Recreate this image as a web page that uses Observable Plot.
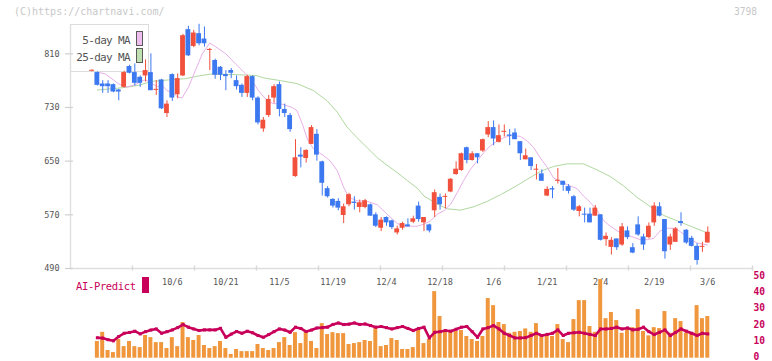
<!DOCTYPE html>
<html>
<head>
<meta charset="utf-8">
<script src="https://cdn.jsdelivr.net/npm/d3@7"></script>
<script src="https://cdn.jsdelivr.net/npm/@observablehq/plot@0.6"></script>
<style>
  html, body { margin: 0; padding: 0; background: #fff; }
  #wrap { position: relative; width: 772px; height: 361px; overflow: hidden; background: #fff; font-family: "DejaVu Sans Mono", monospace; }
  .abs { position: absolute; white-space: nowrap; }
  #main, #sub { position: absolute; left: 0; z-index: 2; }
  #main { top: 0; }
  #sub { top: 270px; }
  .legendbox { position: absolute; left: 70px; top: 24px; width: 77px; height: 46px; border: 1px solid #dcdcdc; background: #fff; z-index: 1; }
  .lg { font-size: 11px; line-height: 11px; letter-spacing: -0.65px; color: #555; z-index: 1; text-align: right; }
</style>
</head>
<body>
<div id="wrap">
  <div class="abs" style="left:14px; top:6px; font-size:10px; line-height:12px; color:#c8c8c8;">(C)https://chartnavi.com/</div>
  <div class="abs" style="right:15px; top:6px; font-size:9.6px; line-height:12px; color:#c8c8c8;">3798</div>
  <div class="legendbox"></div>
  <div class="abs lg" style="left:60px; top:35px; width:70px;">5-day MA</div>
  <div class="abs lg" style="left:60px; top:51.5px; width:70px;">25-day MA</div>
  <div class="abs" style="left:136px; top:31px; width:5px; height:13px; background:#eebfee; border:1px solid #5a5a5a; z-index:1;"></div>
  <div class="abs" style="left:136px; top:48px; width:5px; height:13px; background:#bfe0b0; border:1px solid #5a5a5a; z-index:1;"></div>
  <div class="abs" style="left:76px; top:281px; font-size:10.5px; line-height:10px; letter-spacing:-0.35px; color:#c8005a; z-index:3;">AI-Predict</div>
  <div class="abs" style="left:142px; top:277px; width:7px; height:16px; background:#c8005a; z-index:3;"></div>
  <div id="main"></div>
  <div id="sub"></div>
</div>
<script>
// ---- data ----
const open  = [784,782,765,765,764,756,760,791,782,775,777,782,755.5,771,721,779,749,777,846,821,840,832,815,800,790,779,785,770,763,751,776,744,698,718,744,764,727,718,627,659,654,675,690,649,609,593,590,569,585,589,581,581,585,570,550,566,561,543,550,555,559,583,558,555,576,596,596,604,630,636,670,651,661,665,689,700,678,693,689,692,679,652,655,636.5,631,598,609,620,620,612,597,575,571,571,568,570,533,521.5,534,525,546,521,555,537,536,558,582,563,525,529,560,547,535,523,521.5,528];
const high  = [786,783,770,770,765,757,784,793,795,777,801,810,770,772,740,780,780,839,851,845,854,850,818,802,791,785,788,777,765,778,777,746,715,748,764,768,735,721,682,670,667,703,697,650,612,594,594,586,602,597,592,593,586,573,566,567,562,553,559,564,568,589,566,556,607,601,601,624,649,662,671,664,661,683,709,710,704,704,697,698,679,668,655,645,637,612,612,639,620,615,599,584,580,580,584,570,543,536,534,557,552,527,567,541,558,588,588,563,541,551,573,548,538,527,529,552];
const low   = [783,762,751,751,752,740,759,780,762,760,768,755,748,727,715,739,743,776,806,819,822,820,785,772,770,755,773,756,745,745,740,704,693,715,736,716,715,693,626,640,647,675,650,598,595,580,576,557,582,577,573,579,568,551,545,553,548,540,547,552,557,559,545,543,566,577,579,603,629,635,646,650,646,663,685,673,677,686,673,682,651,652,636,622,620,597,594,616,605,601,575,567,558,558,568,531,523,510,517,523,533,512,538,517,534,553,567,504,517,529,553,526,522,495,514,528];
const close = [785.5,763,761,761,753,753,782,781,766,766,785,755,757,728,735,744,773,837,807,841,825,825,816.5,778,778,776,781,761,751,776,744,707,711,742,761,727,721,697,655,656,666,700,659,617,597,583,580,582,600,587,588,591,568,553,562,558,551,549,557,552,564,563,566,546,603,585,597.5,623,638,661,651,661,655,682,700,683,688,694.5,687,682,661,658,642,638,620,608,607,621.5,614,605,577,582,569.5,558,580,532,538,532,521,552,536,513,540,525,553,583,568,515,537,549,557,528,523,502,523,544];

const volume = [null,10.4,16.1,4.8,3.5,11.6,7.2,10.4,7.2,6.6,14.1,12.8,9.7,9.7,6.0,12.8,7.2,22.2,12.8,11.0,14.1,7.9,6.0,7.2,10.4,6.0,2.3,5.4,4.1,4.1,4.1,8.5,6.0,4.8,6.0,9.7,12.8,7.9,15.9,9.1,16.6,10.4,6.0,21.5,14.7,15.9,15.3,15.3,8.5,9.1,9.7,11.0,10.4,18.4,7.2,7.9,12.2,11.0,5.4,5.4,6.6,17.8,9.1,11.6,41.4,25.9,17.2,17.2,16.6,17.2,13.5,11.6,10.4,13.5,37.1,32.7,22.2,20.9,15.5,16.1,16.6,18.2,16.1,21.5,13.5,13.9,13.5,20.9,11.6,9.7,24.0,35.8,35.8,19.7,16.1,48.9,24.6,28.4,23.4,15.5,17.8,19.0,30.2,16.6,13.9,19.0,18.4,29.0,15.5,24.6,22.8,15.5,15.5,32.7,24.6,25.9];
const aiPredict = [null,12.7,12.5,11.5,10.8,13.5,15.5,16,16.8,15.1,16.5,17.5,18.2,15.5,16.5,17.6,19,20.9,19.3,18.2,17.2,17.6,17.6,17.6,18.6,13.0,15,16.6,15.5,16.8,15.8,14.1,13,14.7,16.5,18.2,17.5,16.1,19.3,18.5,16.6,17.5,18.8,19,19.3,21,21.9,20.9,21.2,21.9,21,21.3,20.3,19.3,19.7,19,18.2,19,19.7,18.5,17.2,18.5,19.3,12.6,16.1,16.5,17.2,16.8,18,19.3,19.7,16.5,13.0,18.2,19,20.3,18.2,15.5,14.1,12.6,12.6,12.8,14.1,15.5,14.1,14.8,15.5,17.6,14.1,15.5,15.8,16.1,15.5,14.8,14.1,18.2,18.2,18.5,19.3,18.2,18.8,17.6,18,19.3,16.5,14.7,16.1,17.6,14.1,16,18.2,16.8,15.5,14.1,15.5,15.1];

const ma5Idx = [1,2.5,5,6.3,8.1,9.4,10,12.2,13.1,14,15,15.9,16.8,18,19.3,20.6,22,23,25,26.8,28.7,29.9,31.1,32.4,33.7,35.5,37.4,38.3,39.3,40.2,41.4,43.3,44.5,45.8,47,48,49.5,51.4,53.3,55.1,57,58.5,60.7,62,63.2,64.5,65.7,67,68.2,69.4,70.7,71.9,73.2,74.4,75.7,76.9,78.1,80,81.3,82.5,83.7,85,86.2,87.5,88.7,90.6,91.8,93,94.3,95.6,96.8,98.7,100.6,102.4,103.7,104.9,106.1,107.4,109,110.2,111.4,113,114.9];
const ma5Val = [782.5,780,765,760,764,770,771,761,763,755,753,746,744,760,785,810,826,821,810,795,780,770,755,743,736,735,730,725,705,683,668,658,650,636,611,596,591,590,585,571,557,553,553,556,561,571,576,586,603,621,638,650,663,673,680,685,688,687,680,670,655,641,625,620,615,609,598,589,577,561,553,543,538,533,533,535,546,550,550,543,535,528,525];
const ma25Idx = [1,3.8,6.3,8.7,11.2,14.3,17.5,19.9,22.4,26.8,30.8,32.1,35.2,38.3,41.4,43.9,45.8,47.6,49.5,51.4,53.3,55.1,57,58.9,60.7,62,64.5,66.3,68.8,71.3,73.8,76.3,78.8,81.3,83.8,86.2,88.7,91.8,94.3,96.8,99.3,101.8,104.3,106.8,109.3,111.8,113.7,114.9];
const ma25Val = [756,758,760,763,769,771,773,777,780,779,777.5,774,770,765.6,755,740,723,701,685,670,655,644,633,621,610,598,586,579,577,582,590,600,611,623,635,642,646,646,637,627,613,596,582,569,561,553,547,543];

const dateLabels = ["10/6","10/21","11/5","11/19","12/4","12/18","1/6","1/21","2/4","2/19","3/6"];
const labelIdx = [15,25,35,45,55,65,75,85,95,105,115];
const priceTicks = [490,570,650,730,810];
const aiTicks = [0,10,20,30,40,50];

// ---- build ----
const RED = "#f0503c", BLUE = "#3c78f0", ORANGE = "#f0963c", MAG = "#c8005a";
const PINK = "#e8b0e8", GREEN = "#b0d8a0";
const xDomain = [-4.015, 123.35];
const gridTicks = d3.range(1, 12).map(k => xDomain[0] + k * (xDomain[1] - xDomain[0]) / 11);

const candles = open.map((o, i) => ({i, o, h: high[i], l: low[i], c: close[i], col: close[i] >= o ? RED : BLUE}));
const ma5 = ma5Idx.map((i, k) => ({i, v: ma5Val[k]}));
const ma25 = ma25Idx.map((i, k) => ({i, v: ma25Val[k]}));
const vols = volume.map((v, i) => ({i, v})).filter(d => d.v != null);
const ai = aiPredict.map((v, i) => ({i, v})).filter(d => d.v != null);

const main = Plot.plot({
  width: 772, height: 300,
  marginLeft: 70, marginRight: 20, marginTop: 24, marginBottom: 32,
  x: {domain: xDomain, axis: null, label: null},
  y: {domain: [490, 810], range: [268, 53.3], axis: null, label: null},
  color: {type: "identity"},
  style: {background: "transparent", fontFamily: "DejaVu Sans Mono, monospace", color: "#555"},
  marks: [
    Plot.frame({anchor: "left", stroke: "#dedede", strokeWidth: 1.4}),
    Plot.frame({anchor: "bottom", stroke: "#dedede", strokeWidth: 1.4}),
    Plot.axisX({ticks: gridTicks, tickSize: 5, dy: -2.5, label: null, tickFormat: () => "", stroke: "#d8d8d8", strokeWidth: 1.4}),
    Plot.axisX({ticks: labelIdx, tickSize: 0, tickPadding: 10, label: null, tickFormat: d => dateLabels[labelIdx.indexOf(d)], fontSize: 8.5, fill: "#555"}),
    Plot.axisY({ticks: priceTicks, tickSize: 8, tickPadding: 6, dx: 3, label: null, stroke: "#d0d0d0", strokeWidth: 1.2, fontSize: 8.5, fill: "#555", tickFormat: d => String(d)}),
    Plot.line(ma25, {x: "i", y: "v", stroke: GREEN, strokeWidth: 1, curve: "linear"}),
    Plot.line(ma5, {x: "i", y: "v", stroke: PINK, strokeWidth: 1, curve: "linear"}),
    Plot.ruleX(candles, {x: "i", y1: "l", y2: "h", stroke: "col", strokeWidth: 1}),
    Plot.rect(candles, {x1: d => d.i - 0.45, x2: d => d.i + 0.45, y1: "o", y2: "c", fill: "col"})
  ]
});
document.getElementById("main").appendChild(main);

const sub = Plot.plot({
  width: 772, height: 91,
  marginLeft: 70, marginRight: 20, marginTop: 0, marginBottom: 0,
  x: {domain: xDomain, axis: null, label: null},
  y: {domain: [0, 50], range: [87.7, 7.3], axis: null, label: null},
  style: {background: "transparent", fontFamily: "DejaVu Sans Mono, monospace"},
  marks: [
    Plot.rect(vols, {x1: d => d.i - 0.37, x2: d => d.i + 0.37, y1: 0, y2: "v", fill: ORANGE}),
    Plot.line(ai, {x: "i", y: "v", stroke: MAG, strokeWidth: 2.6}),
    Plot.dot(ai, {x: "i", y: "v", symbol: "square", r: 1.7, fill: MAG}),
    Plot.axisY({anchor: "right", ticks: aiTicks, tickSize: 0, tickPadding: 1, label: null, fontSize: 9.6, fontWeight: "bold", fill: MAG, textAnchor: "start", dy: -1.6})
  ]
});
document.getElementById("sub").appendChild(sub);
</script>
</body>
</html>
